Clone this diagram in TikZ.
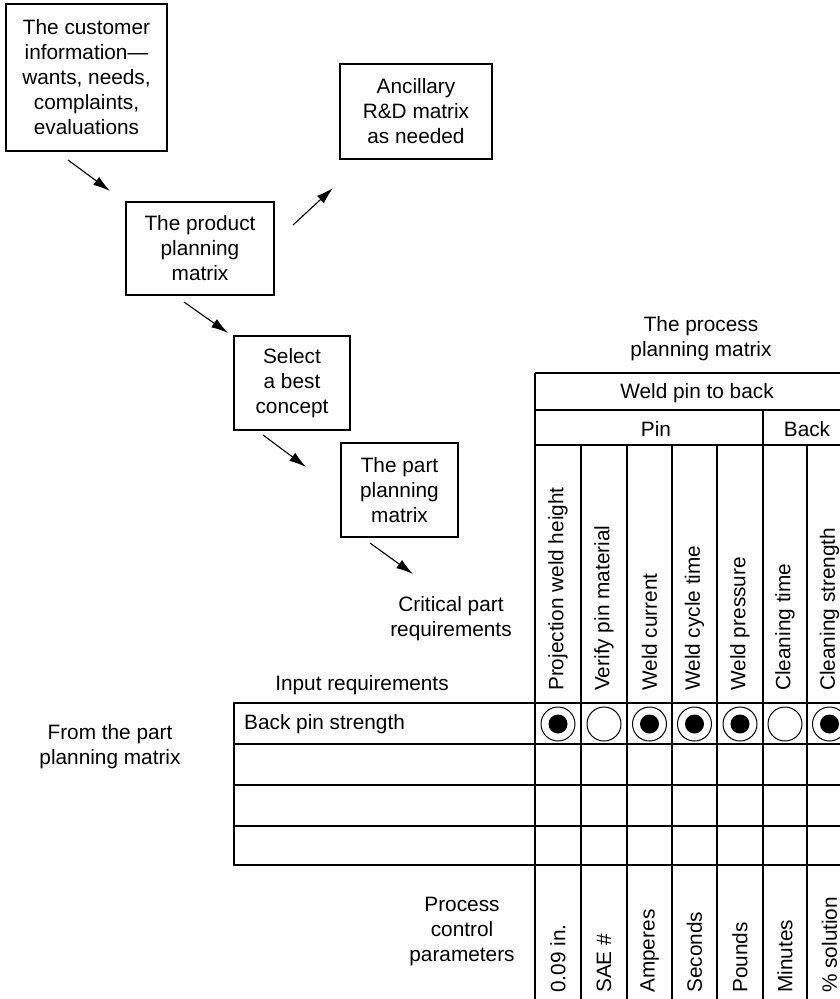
\documentclass[tikz,border=0pt]{standalone}
\usepackage{fontspec}
\setmainfont{Liberation Sans}
\usetikzlibrary{arrows.meta}
\begin{document}
\begin{tikzpicture}[x=1pt,y=-1pt,
  every node/.style={font=\fontsize{20.8}{25}\selectfont, inner sep=0pt},
  box/.style={draw, line width=1.2pt, align=center},
  txt/.style={align=center},
  flow/.style={-{Latex[length=17pt,width=10pt]}, line width=1.1pt},
  grid/.style={line width=1.2pt},
  vhead/.style={rotate=90, anchor=west},
  strong/.style={circle, draw, line width=1pt, minimum size=34pt,
    path picture={\fill (path picture bounding box.center) circle (9.5pt);}},
  weak/.style={circle, draw, line width=1pt, minimum size=34pt}]
\useasboundingbox (0,0) rectangle (840,999);
\clip (0,0) rectangle (840,999);

% planning chain
\node[box, minimum width=161pt, minimum height=147pt] (cust) at (86.5,77.5)
  {The customer\\information—\\wants, needs,\\complaints,\\evaluations};
\node[box, minimum width=148pt, minimum height=93pt] (prod) at (200,248.5)
  {The product\\planning\\matrix};
\node[box, minimum width=152pt, minimum height=95pt] (anc) at (416,111.5)
  {Ancillary\\R\&D matrix\\as needed};
\node[box, minimum width=116pt, minimum height=94pt] (sel) at (292,383)
  {Select\\a best\\concept};
\node[box, minimum width=117pt, minimum height=94pt] (part) at (399.5,490)
  {The part\\planning\\matrix};
\node[txt] (crit) at (451,619) {Critical part\\requirements};

% arrow end points
\coordinate (a1s) at (68,160);  \coordinate (a1e) at (110,191);
\coordinate (a2s) at (293,225); \coordinate (a2e) at (333,188);
\coordinate (a3s) at (184,302); \coordinate (a3e) at (228,333);
\coordinate (a4s) at (263,435); \coordinate (a4e) at (306,467);
\coordinate (a5s) at (370,543); \coordinate (a5e) at (413,574);
\draw[flow] (a1s) -- (a1e);
\draw[flow] (a2s) -- (a2e);
\draw[flow] (a3s) -- (a3e);
\draw[flow] (a4s) -- (a4e);
\draw[flow] (a5s) -- (a5e);

% process planning matrix: headings
\node[txt] (title) at (701,338.5) {The process\\planning matrix};
\node (op) at (697,393) {Weld pin to back};
\node (pin) at (656,429) {Pin};
\node (back) at (807,429) {Back};

% grid lines
\draw[grid] (535,373) -- (860,373);
\draw[grid] (535,410) -- (860,410);
\draw[grid] (535,445) -- (860,445);
\draw[grid] (535,373) -- (535,999);
\draw[grid] (763,410) -- (763,999);
\foreach \cx in {581,627,672,717,807,852} \draw[grid] (\cx,445) -- (\cx,999);
\draw[grid] (234,703) rectangle (860,865);
\foreach \ry in {744,785,826} \draw[grid] (234,\ry) -- (860,\ry);

% column headings
\node[vhead] (h1) at (558,691) {Projection weld height};
\node[vhead] (h2) at (604,691) {Verify pin material};
\node[vhead] (h3) at (649.5,691) {Weld current};
\node[vhead] (h4) at (694.5,691) {Weld cycle time};
\node[vhead] (h5) at (740,691) {Weld pressure};
\node[vhead] (h6) at (785,691) {Cleaning time};
\node[vhead] (h7) at (829.5,691) {Cleaning strength};

% row labels
\node (inreq) at (362,685) {Input requirements};
\node[txt] (from) at (110,746.5) {From the part\\planning matrix};
\node[anchor=west] (row1) at (244,724) {Back pin strength};

% relationship marks
\node[strong] (m1) at (558,724) {};
\node[weak]   (m2) at (604,724) {};
\node[strong] (m3) at (649.5,724) {};
\node[strong] (m4) at (694.5,724) {};
\node[strong] (m5) at (740,724) {};
\node[weak]   (m6) at (785,724) {};
\node[strong] (m7) at (829.5,724) {};

% process control parameters
\node[txt] (pcp) at (462,931) {Process\\control\\parameters};
\node[vhead] (p1) at (558,993) {0.09 in.};
\node[vhead] (p2) at (604,993) {SAE \#};
\node[vhead] (p3) at (649.5,993) {Amperes};
\node[vhead] (p4) at (694.5,993) {Seconds};
\node[vhead] (p5) at (740,993) {Pounds};
\node[vhead] (p6) at (785,993) {Minutes};
\node[vhead] (p7) at (829.5,993) {\% solution};
\end{tikzpicture}
\end{document}
